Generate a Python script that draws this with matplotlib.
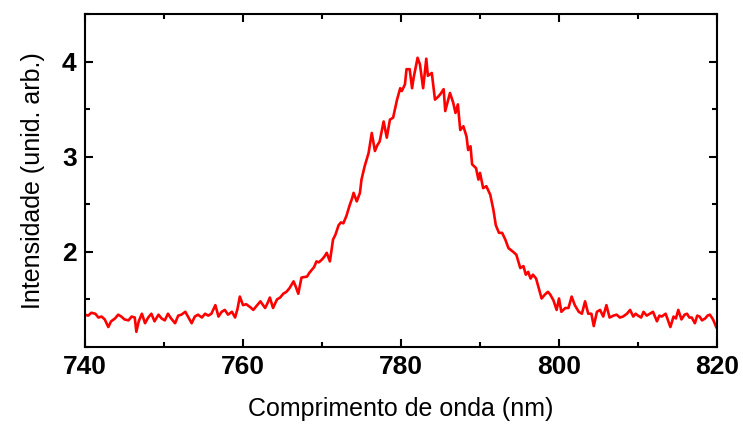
import matplotlib
matplotlib.use("Agg")
from matplotlib import pyplot as plt
from matplotlib.ticker import MultipleLocator

# spectrum
wavelength = [
    740.0, 740.4, 740.8, 741.3, 741.7, 742.1, 742.5, 742.95, 743.3, 743.8,
    744.2, 744.6, 745.0, 745.5, 745.9, 746.3, 746.5, 746.8, 747.2, 747.6,
    748.0, 748.4, 748.8, 749.3, 749.7, 750.1, 750.5, 750.9, 751.4, 751.8,
    752.2, 752.7, 753.1, 753.5, 753.9, 754.3, 754.8, 755.2, 755.6, 756.0,
    756.5, 756.9, 757.3, 757.7, 758.1, 758.6, 759.0, 759.3, 759.6, 760.0,
    760.4, 760.9, 761.3, 761.7, 762.2, 762.8, 763.1, 763.4, 763.8, 764.3,
    764.7, 765.1, 765.5, 765.9, 766.4, 766.7, 767.0, 767.4, 768.1, 768.4,
    768.7, 769.0, 769.3, 769.6, 770.0, 770.3, 770.6, 771.0, 771.4, 771.7,
    772.1, 772.4, 772.7, 773.1, 773.5, 773.8, 774.0, 774.4, 774.8, 775.0,
    775.4, 775.9, 776.3, 776.7, 777.0, 777.3, 777.8, 778.2, 778.6, 779.0,
    779.5, 779.9, 780.1, 780.5, 780.7, 781.1, 781.4, 781.6, 782.1, 782.4,
    782.8, 783.2, 783.4, 783.9, 784.3, 784.7, 785.0, 785.4, 785.6, 786.2,
    786.6, 786.9, 787.2, 787.5, 787.9, 788.3, 788.5, 788.8, 789.0, 789.5,
    789.8, 790.0, 790.4, 790.8, 791.3, 791.7, 792.0, 792.4, 792.8, 793.2,
    793.6, 794.2, 794.6, 795.1, 795.5, 795.8, 796.1, 796.4, 796.7, 797.1,
    797.4, 797.8, 798.2, 798.6, 798.9, 799.3, 799.7, 800.0, 800.3, 800.8,
    801.2, 801.6, 802.0, 802.5, 802.9, 803.3, 803.7, 804.1, 804.4, 804.8,
    805.2, 805.6, 806.0, 806.4, 806.9, 807.3, 807.7, 808.1, 808.6, 809.0,
    809.4, 809.7, 810.0, 810.4, 810.7, 811.1, 811.5, 811.9, 812.4, 812.7,
    813.0, 813.5, 814.1, 814.5, 814.8, 815.1, 815.5, 815.9, 816.2, 816.5,
    816.8, 817.2, 817.5, 817.8, 818.1, 818.5, 818.8, 819.1, 819.5, 819.9,
]
intensity = [
    1.34, 1.33, 1.36, 1.35, 1.31, 1.32, 1.29, 1.21, 1.27, 1.30,
    1.34, 1.32, 1.29, 1.28, 1.32, 1.31, 1.16, 1.27, 1.35, 1.25,
    1.31, 1.35, 1.27, 1.34, 1.30, 1.28, 1.35, 1.30, 1.25, 1.33,
    1.34, 1.37, 1.31, 1.25, 1.32, 1.34, 1.31, 1.35, 1.33, 1.35,
    1.44, 1.32, 1.37, 1.39, 1.34, 1.37, 1.31, 1.40, 1.53, 1.44,
    1.45, 1.42, 1.39, 1.43, 1.48, 1.41, 1.46, 1.52, 1.41, 1.50,
    1.52, 1.56, 1.58, 1.62, 1.69, 1.63, 1.56, 1.73, 1.74, 1.78,
    1.81, 1.84, 1.90, 1.89, 1.92, 1.95, 1.99, 1.90, 2.13, 2.18,
    2.28, 2.31, 2.30, 2.38, 2.49, 2.56, 2.62, 2.53, 2.62, 2.76,
    2.90, 3.04, 3.25, 3.06, 3.12, 3.16, 3.37, 3.20, 3.39, 3.41,
    3.60, 3.72, 3.69, 3.76, 3.92, 3.92, 3.72, 3.83, 4.04, 3.97,
    3.72, 4.03, 3.85, 3.88, 3.60, 3.63, 3.66, 3.71, 3.48, 3.67,
    3.57, 3.46, 3.55, 3.28, 3.32, 3.21, 3.07, 3.11, 2.92, 2.88,
    2.76, 2.83, 2.67, 2.69, 2.60, 2.44, 2.28, 2.20, 2.20, 2.13,
    2.04, 2.00, 1.97, 1.83, 1.85, 1.76, 1.79, 1.72, 1.76, 1.72,
    1.63, 1.51, 1.55, 1.58, 1.55, 1.49, 1.39, 1.51, 1.37, 1.41,
    1.41, 1.53, 1.44, 1.37, 1.35, 1.48, 1.35, 1.35, 1.22, 1.37,
    1.39, 1.32, 1.44, 1.31, 1.33, 1.34, 1.31, 1.32, 1.35, 1.39,
    1.32, 1.35, 1.33, 1.31, 1.37, 1.33, 1.35, 1.37, 1.27, 1.33,
    1.32, 1.35, 1.21, 1.32, 1.30, 1.39, 1.29, 1.34, 1.35, 1.31,
    1.31, 1.25, 1.33, 1.32, 1.28, 1.30, 1.33, 1.34, 1.29, 1.21,
]

plt.rcParams['font.family'] = ['Liberation Sans', 'DejaVu Sans']

fig = plt.figure(figsize=(7.43, 4.29), dpi=100)
ax = fig.add_axes([0.1144, 0.1911, 0.8506, 0.7763])

ax.plot(wavelength, intensity, color="#ff0000", lw=1.9)

ax.set_xlim(740, 820)
ax.set_ylim(1.0, 4.5)
ax.xaxis.set_major_locator(MultipleLocator(20))
ax.xaxis.set_minor_locator(MultipleLocator(10))
ax.yaxis.set_minor_locator(MultipleLocator(0.5))
ax.set_yticks([2, 3, 4])

ax.tick_params(which="both", direction="in", top=True, right=True, width=1.5)
ax.tick_params(which="major", length=6, labelsize=19, pad=6)
ax.tick_params(which="minor", length=3.5)
for lab in ax.get_xticklabels() + ax.get_yticklabels():
    lab.set_fontweight("bold")
for s in ax.spines.values():
    s.set_linewidth(1.5)

ax.set_xlabel("Comprimento de onda (nm)", fontsize=18, labelpad=13)
ax.set_ylabel("Intensidade (unid. arb.)", fontsize=18, labelpad=12)

fig.savefig("out.png", dpi=100)
